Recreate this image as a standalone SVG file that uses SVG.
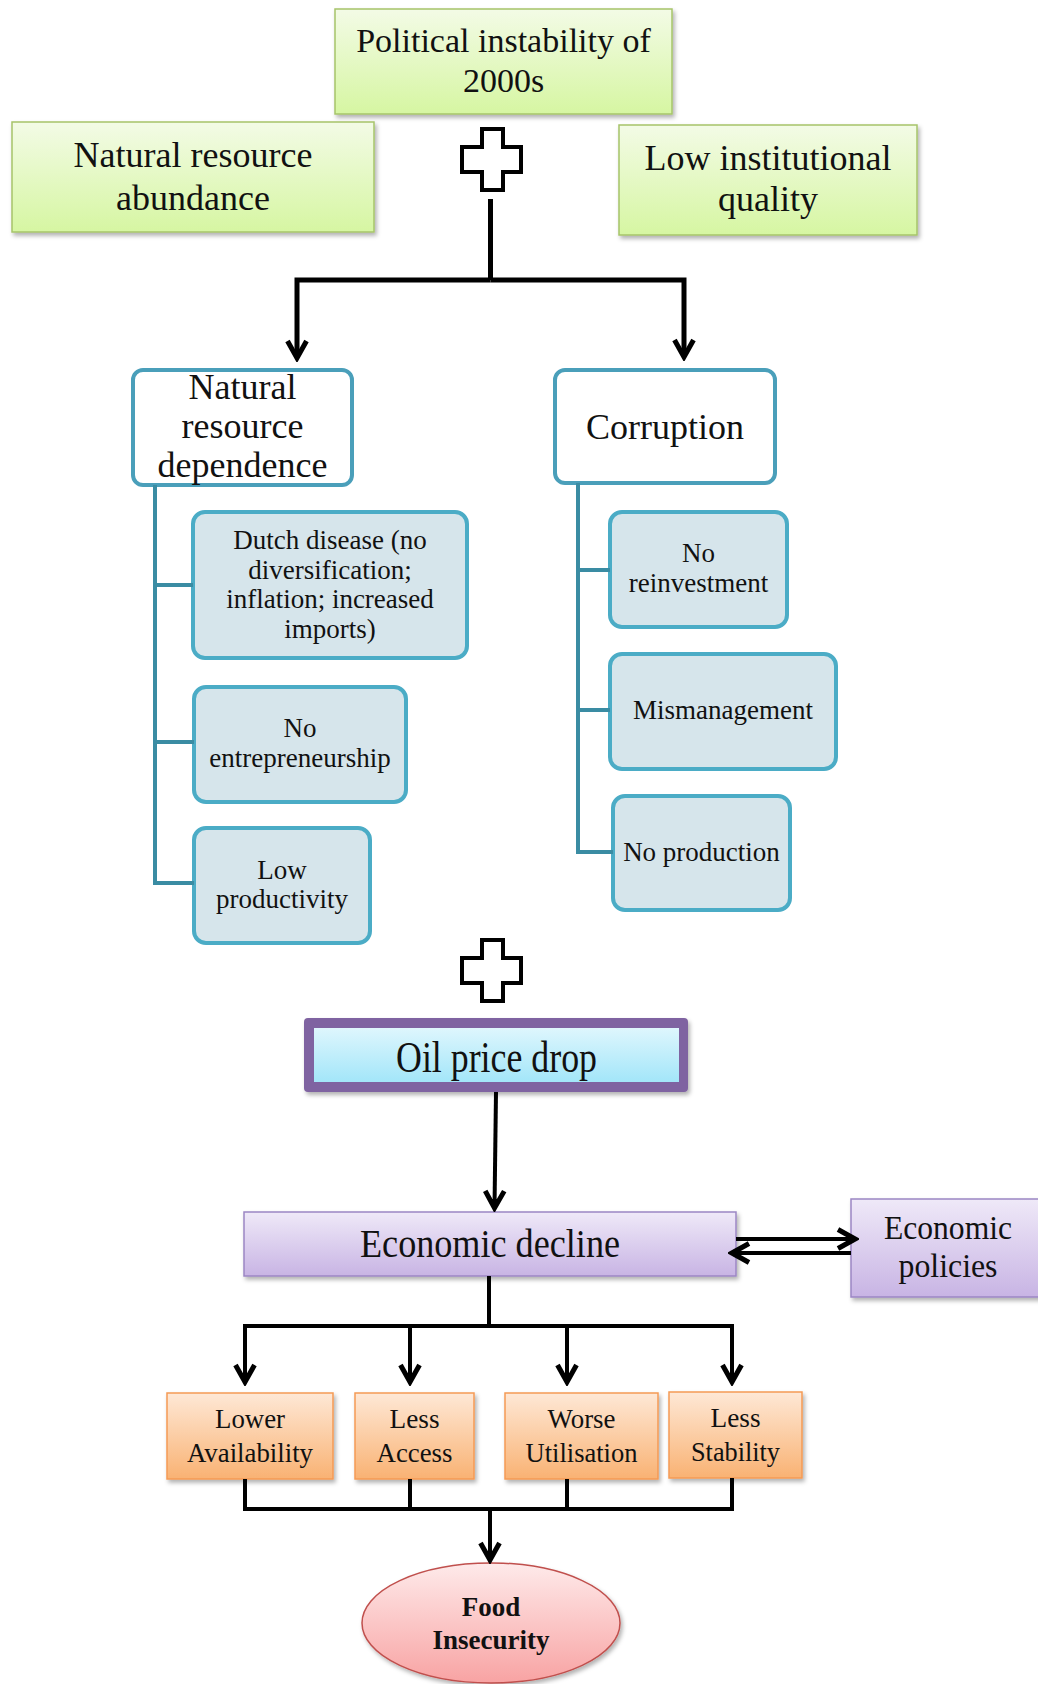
<svg xmlns="http://www.w3.org/2000/svg" width="1038" height="1684" viewBox="0 0 1038 1684">
  <defs>
    <linearGradient id="gGreen" x1="0" y1="0" x2="0" y2="1">
      <stop offset="0" stop-color="#f3fbe6"/>
      <stop offset="1" stop-color="#d6f6a2"/>
    </linearGradient>
    <linearGradient id="gPurple" x1="0" y1="0" x2="0" y2="1">
      <stop offset="0" stop-color="#efe9f8"/>
      <stop offset="1" stop-color="#c8b4e4"/>
    </linearGradient>
    <linearGradient id="gCyan" x1="0" y1="0" x2="0" y2="1">
      <stop offset="0" stop-color="#def6fd"/>
      <stop offset="1" stop-color="#a3e6f9"/>
    </linearGradient>
    <linearGradient id="gOrange" x1="0" y1="0" x2="0" y2="1">
      <stop offset="0" stop-color="#fee8d6"/>
      <stop offset="1" stop-color="#f9b273"/>
    </linearGradient>
    <linearGradient id="gPink" x1="0" y1="0" x2="0" y2="1">
      <stop offset="0" stop-color="#feeaea"/>
      <stop offset="1" stop-color="#f8a3a3"/>
    </linearGradient>
    <filter id="shadow" x="-10%" y="-10%" width="130%" height="140%">
      <feDropShadow dx="2" dy="3" stdDeviation="2" flood-color="#000" flood-opacity="0.3"/>
    </filter>
    <marker id="chev" viewBox="-24 -15 28 30" markerWidth="28" markerHeight="30" refX="0" refY="0" orient="auto" markerUnits="userSpaceOnUse">
      <path d="M-17,-9.5 L0,0 L-17,9.5" fill="none" stroke="#000" stroke-width="5"/>
      <path d="M-9,-4 L0,0 L-9,4 Z" fill="#000"/>
    </marker>
    <path id="cross" d="M20,0 H41 V18 H59 V43 H41 V61 H20 V43 H0 V18 H20 Z"/>
    <style>
      text { font-family: "Liberation Serif", "Times New Roman", serif; fill: #111; text-anchor: middle; }
      .green { fill: url(#gGreen); stroke: #a6c46a; stroke-width: 1.5; filter: url(#shadow); }
      .purple { fill: url(#gPurple); stroke: #9c86c4; stroke-width: 1.5; filter: url(#shadow); }
      .orange { fill: url(#gOrange); stroke: #f59a55; stroke-width: 1.5; filter: url(#shadow); }
      .head { fill: #ffffff; stroke: #4a9fba; stroke-width: 4; }
      .sub { fill: #d6e5eb; stroke: #4bacc6; stroke-width: 4; }
      .plus { fill: #ffffff; stroke: #000; stroke-width: 4; }
      .t36 { font-size: 36px; }
      .t34 { font-size: 34px; }
      .t27 { font-size: 27px; }
      .t28 { font-size: 28px; }
      .conn { fill: none; stroke: #000; stroke-width: 4; stroke-linejoin: miter; }
      .thick { stroke-width: 5; }
      .teal { fill: none; stroke: #3a8ca3; stroke-width: 4; }
    </style>
  </defs>

  <!-- top level causes -->
  <g id="political">
    <rect class="green" x="335" y="9" width="337" height="105"/>
    <text class="t34" x="503.5" y="52">Political instability of</text>
    <text class="t34" x="503.5" y="92">2000s</text>
  </g>
  <g id="resource-abundance">
    <rect class="green" x="12" y="122" width="362" height="110"/>
    <text class="t36" x="193" y="167">Natural resource</text>
    <text class="t36" x="193" y="210">abundance</text>
  </g>
  <g id="institutional">
    <rect class="green" x="619" y="125" width="298" height="110"/>
    <text class="t36" x="768" y="170">Low institutional</text>
    <text class="t36" x="768" y="211">quality</text>
  </g>
  <g id="plus-top">
    <use href="#cross" class="plus" x="462" y="129"/>
  </g>

  <!-- resource dependence branch -->
  <g id="dependence">
    <rect class="head" x="133" y="370" width="219" height="115" rx="10"/>
    <text class="t36" x="242.5" y="399">Natural</text>
    <text class="t36" x="242.5" y="438">resource</text>
    <text class="t36" x="242.5" y="477">dependence</text>
  </g>
  <g id="dutch-disease">
    <rect class="sub" x="193" y="512" width="274" height="146" rx="12"/>
    <text class="t27" x="330" y="549">Dutch disease (no</text>
    <text class="t27" x="330" y="579">diversification;</text>
    <text class="t27" x="330" y="608">inflation; increased</text>
    <text class="t27" x="330" y="638">imports)</text>
  </g>
  <g id="entrepreneurship">
    <rect class="sub" x="194" y="687" width="212" height="115" rx="12"/>
    <text class="t27" x="300" y="737">No</text>
    <text class="t27" x="300" y="767">entrepreneurship</text>
  </g>
  <g id="productivity">
    <rect class="sub" x="194" y="828" width="176" height="115" rx="12"/>
    <text class="t27" x="282" y="879">Low</text>
    <text class="t27" x="282" y="908">productivity</text>
  </g>

  <!-- corruption branch -->
  <g id="corruption">
    <rect class="head" x="555" y="370" width="220" height="113" rx="10"/>
    <text class="t36" x="665" y="439">Corruption</text>
  </g>
  <g id="reinvestment">
    <rect class="sub" x="610" y="512" width="177" height="115" rx="12"/>
    <text class="t27" x="698.5" y="562">No</text>
    <text class="t27" x="698.5" y="592">reinvestment</text>
  </g>
  <g id="mismanagement">
    <rect class="sub" x="610" y="654" width="226" height="115" rx="12"/>
    <text class="t27" x="723" y="719">Mismanagement</text>
  </g>
  <g id="no-production">
    <rect class="sub" x="613" y="796" width="177" height="114" rx="12"/>
    <text class="t27" x="701.5" y="861">No production</text>
  </g>

  <g id="plus-bottom">
    <use href="#cross" class="plus" x="462" y="940"/>
  </g>

  <!-- shock and consequences -->
  <g id="oil-price">
    <rect x="304" y="1018" width="384" height="74" rx="4" fill="#7f63a1" filter="url(#shadow)"/>
    <rect x="314" y="1028" width="365" height="54" fill="url(#gCyan)"/>
    <text x="496.5" y="1072" font-size="44" textLength="201" lengthAdjust="spacingAndGlyphs">Oil price drop</text>
  </g>
  <g id="economic-decline">
    <rect class="purple" x="244" y="1212" width="492" height="64"/>
    <text x="490" y="1257" font-size="40" textLength="260" lengthAdjust="spacingAndGlyphs">Economic decline</text>
  </g>
  <g id="economic-policies">
    <rect class="purple" x="851" y="1199" width="200" height="98"/>
    <text x="948" y="1239" font-size="34" textLength="128" lengthAdjust="spacingAndGlyphs">Economic</text>
    <text x="948" y="1277" font-size="34" textLength="99" lengthAdjust="spacingAndGlyphs">policies</text>
  </g>
  <g id="availability">
    <rect class="orange" x="167" y="1393" width="166" height="86"/>
    <text class="t28" x="250" y="1428" textLength="70" lengthAdjust="spacingAndGlyphs">Lower</text>
    <text class="t28" x="250" y="1462" textLength="126" lengthAdjust="spacingAndGlyphs">Availability</text>
  </g>
  <g id="access">
    <rect class="orange" x="355" y="1393" width="119" height="86"/>
    <text class="t28" x="414.5" y="1428" textLength="50" lengthAdjust="spacingAndGlyphs">Less</text>
    <text class="t28" x="414.5" y="1462" textLength="76" lengthAdjust="spacingAndGlyphs">Access</text>
  </g>
  <g id="utilisation">
    <rect class="orange" x="505" y="1393" width="153" height="86"/>
    <text class="t28" x="581.5" y="1428" textLength="68" lengthAdjust="spacingAndGlyphs">Worse</text>
    <text class="t28" x="581.5" y="1462" textLength="112" lengthAdjust="spacingAndGlyphs">Utilisation</text>
  </g>
  <g id="stability">
    <rect class="orange" x="669" y="1392" width="133" height="86"/>
    <text class="t28" x="735.5" y="1427" textLength="50" lengthAdjust="spacingAndGlyphs">Less</text>
    <text class="t28" x="735.5" y="1461" textLength="89" lengthAdjust="spacingAndGlyphs">Stability</text>
  </g>
  <g id="food-insecurity">
    <ellipse cx="491" cy="1623" rx="129" ry="60" fill="url(#gPink)" stroke="#c0504d" stroke-width="1.5" filter="url(#shadow)"/>
    <text x="491" y="1616" font-size="27" font-weight="bold">Food</text>
    <text x="491" y="1649" font-size="27" font-weight="bold">Insecurity</text>
  </g>

  <!-- connectors -->
  <g id="connectors">
    <path class="conn thick" d="M490.5,199 V280"/>
    <path class="conn thick" d="M490.5,280 H297 V358" marker-end="url(#chev)"/>
    <path class="conn thick" d="M490.5,280 H684 V357" marker-end="url(#chev)"/>

    <path class="teal" d="M155,485 V883 H194"/>
    <path class="teal" d="M155,585 H193"/>
    <path class="teal" d="M155,742 H194"/>
    <path class="teal" d="M578,483 V852 H613"/>
    <path class="teal" d="M578,570 H610"/>
    <path class="teal" d="M578,710 H610"/>

    <path class="conn" d="M496,1092 L494.5,1208" marker-end="url(#chev)"/>
    <path class="conn" d="M736,1239 H855" marker-end="url(#chev)"/>
    <path class="conn" d="M851,1253 H732" marker-end="url(#chev)"/>

    <path class="conn" d="M489,1276 V1326"/>
    <path class="conn" d="M245,1326 H732"/>
    <path class="conn" d="M245,1324 V1382" marker-end="url(#chev)"/>
    <path class="conn" d="M410,1326 V1382" marker-end="url(#chev)"/>
    <path class="conn" d="M567,1326 V1382" marker-end="url(#chev)"/>
    <path class="conn" d="M732,1324 V1382" marker-end="url(#chev)"/>

    <path class="conn" d="M245,1479 V1509 H732 V1478"/>
    <path class="conn" d="M410,1479 V1509"/>
    <path class="conn" d="M567,1479 V1509"/>
    <path class="conn" d="M490,1509 V1560" marker-end="url(#chev)"/>
  </g>
</svg>
